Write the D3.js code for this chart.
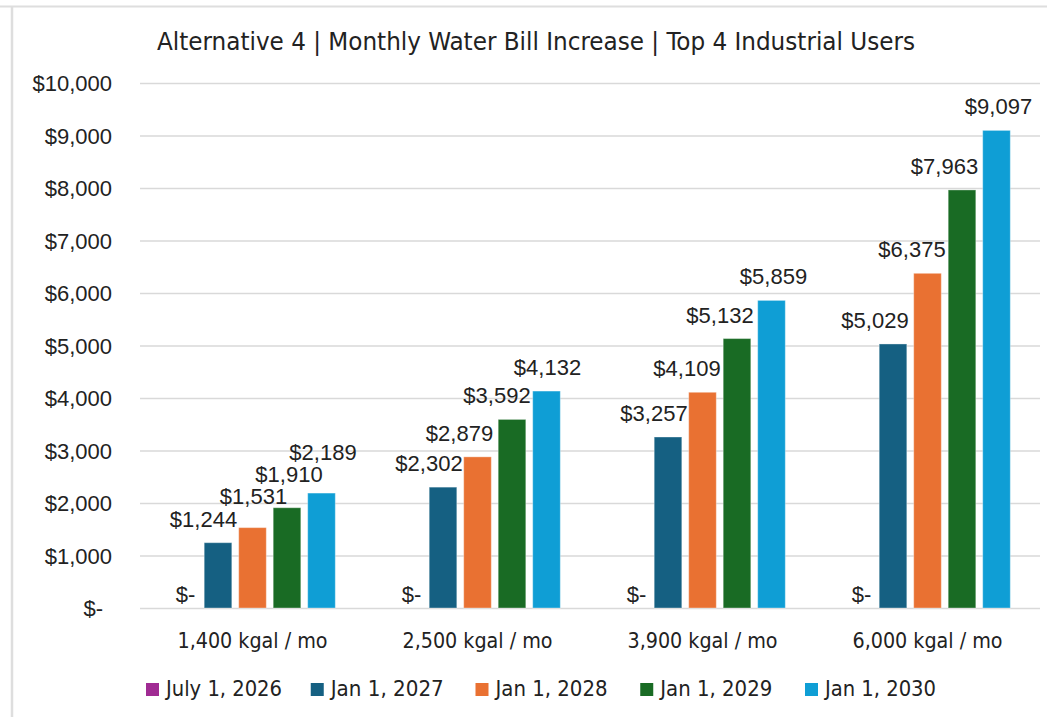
<!DOCTYPE html>
<html>
<head>
<meta charset="utf-8">
<script src="https://cdn.jsdelivr.net/npm/d3@7"></script>
<style>
  html, body { margin: 0; padding: 0; background: #fff; }
  svg { display: block; }
</style>
</head>
<body>
<svg id="chart" width="1047" height="717"></svg>
<script>
// ---------------- DATA ----------------
const titleText = "Alternative 4 | Monthly Water Bill Increase | Top 4 Industrial Users";
const categories = ["1,400 kgal / mo", "2,500 kgal / mo", "3,900 kgal / mo", "6,000 kgal / mo"];
const seriesNames = ["July 1, 2026", "Jan 1, 2027", "Jan 1, 2028", "Jan 1, 2029", "Jan 1, 2030"];
const july2026 = [0, 0, 0, 0];
const jan2027 = [1244, 2302, 3257, 5029];
const jan2028 = [1531, 2879, 4109, 6375];
const jan2029 = [1910, 3592, 5132, 7963];
const jan2030 = [2189, 4132, 5859, 9097];
const yTicks = [0, 1000, 2000, 3000, 4000, 5000, 6000, 7000, 8000, 9000, 10000];

// ---------------- STYLE / LAYOUT ----------------
const seriesColors = ["#A02B93", "#156082", "#E97132", "#196B24", "#0F9ED5"];
// manual label nudges (dx, dy) per category, per series — mimic dragged Excel labels
const labelDx = [[2, -14.5, 1, 2, 1.5], [3, -14, -18, -15, 1], [3, -14, -15.5, -17, 2], [3, -18, -15.5, -17.5, 2]];
const labelDy = [[0, 0, -8, -10, -17], [0, 0, 0, 0, 0], [0, 0, 0, 0, 0], [0, 0, 0, 0, 0]];

const allSeries = [july2026, jan2027, jan2028, jan2029, jan2030];
const table = categories.map((c, i) => ({
  cat: c, ci: i,
  vals: seriesNames.map((s, j) => ({ s, j, v: allSeries[j][i] }))
}));

const svg = d3.select("#chart");
const narrow = "'Liberation Sans Narrow', 'DejaVu Sans Condensed', 'Liberation Sans', sans-serif";
const sans = "'Liberation Sans', Arial, sans-serif";
const textColor = "#222";

// chart border (top + left)
svg.append("line").attr("x1", 0).attr("x2", 1047).attr("y1", 6.5).attr("y2", 6.5)
  .attr("stroke", "#dedede").attr("stroke-width", 2);
svg.append("line").attr("x1", 12).attr("x2", 12).attr("y1", 7).attr("y2", 717)
  .attr("stroke", "#dedede").attr("stroke-width", 2.5);

const x0 = d3.scaleBand().domain(categories).range([140, 1040]).padding(0);
const x1 = d3.scaleBand().domain(seriesNames).range([26.25, 198.75]).paddingInner(0.2).paddingOuter(0.1);
const y = d3.scaleLinear().domain([0, 10000]).range([608, 83]);

const fmt = v => v === 0 ? "$-" : "$" + d3.format(",")(v);

// gridlines
const yAxis = d3.axisLeft(y).tickValues(yTicks).tickSize(-(1040 - 140)).tickFormat(fmt).tickPadding(28);
const gAxis = svg.append("g").attr("transform", "translate(140,0)").call(yAxis);
gAxis.select(".domain").remove();
gAxis.selectAll(".tick line").attr("stroke", "#d9d9d9").attr("stroke-width", 1.5);
gAxis.selectAll(".tick text")
  .attr("font-family", sans).attr("font-size", 22).attr("fill", textColor)
  .attr("dy", "0.35em")
  .attr("dx", d => d === 0 ? -9 : 0);

// bars
const groups = svg.append("g").selectAll("g").data(table).join("g")
  .attr("transform", d => `translate(${x0(d.cat)},0)`);

groups.selectAll("rect").data(d => d.vals).join("rect")
  .attr("x", d => x1(d.s))
  .attr("width", x1.bandwidth())
  .attr("y", d => y(d.v))
  .attr("height", d => y(0) - y(d.v))
  .attr("fill", d => seriesColors[d.j])
  .attr("stroke", "#ffffff").attr("stroke-opacity", 0.35).attr("stroke-width", 1);

// data labels
groups.each(function (g) {
  d3.select(this).selectAll("text.lbl").data(g.vals).join("text")
    .attr("class", "lbl")
    .attr("x", d => x1(d.s) + x1.bandwidth() / 2 + labelDx[g.ci][d.j])
    .attr("y", d => d.v === 0 ? y(0) - 6 : y(d.v) - 16 + labelDy[g.ci][d.j])
    .attr("text-anchor", "middle")
    .attr("font-family", sans).attr("font-size", 22).attr("fill", textColor)
    .text(d => fmt(d.v));
});

// category axis labels
const xAxis = d3.axisBottom(x0).tickSize(0).tickPadding(0);
const gx = svg.append("g").attr("transform", "translate(0,608)").call(xAxis);
gx.select(".domain").remove();
gx.selectAll(".tick text")
  .attr("y", 40).attr("dy", 0)
  .attr("font-family", narrow).attr("font-size", 22).attr("fill", textColor)
  .attr("textLength", 150).attr("lengthAdjust", "spacingAndGlyphs");

// title
svg.append("text")
  .attr("x", 536).attr("y", 50)
  .attr("text-anchor", "middle")
  .attr("font-family", narrow).attr("font-size", 25).attr("fill", textColor)
  .attr("textLength", 758).attr("lengthAdjust", "spacingAndGlyphs")
  .text(titleText);

// legend
const legendX = d3.scalePoint().domain(seriesNames).range([146, 805]);
const legendW = [116, 113, 112, 112, 111];
const lg = svg.append("g").selectAll("g").data(seriesNames).join("g")
  .attr("transform", d => `translate(${legendX(d)},683)`);
lg.append("rect").attr("width", 13).attr("height", 13)
  .attr("fill", (d, i) => seriesColors[i]);
lg.append("text").attr("x", 20).attr("y", 13)
  .attr("font-family", narrow).attr("font-size", 22).attr("fill", textColor)
  .attr("textLength", (d, i) => legendW[i]).attr("lengthAdjust", "spacingAndGlyphs")
  .text(d => d);
</script>
</body>
</html>
